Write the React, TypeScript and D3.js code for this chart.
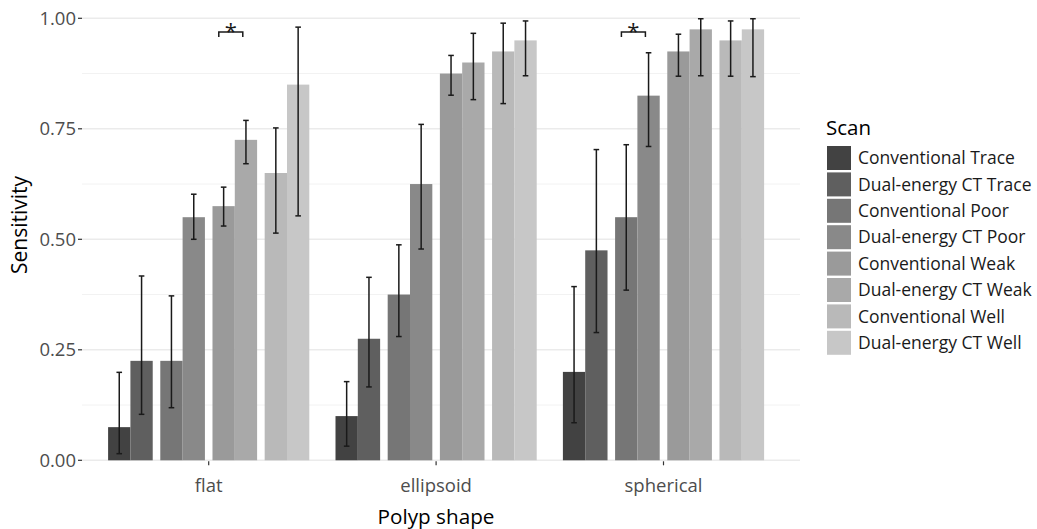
import { scaleBand, scaleLinear, scalePoint, range } from 'd3';

const categories = ['flat', 'ellipsoid', 'spherical'];
const grades = ['Trace', 'Poor', 'Weak', 'Well'];
const modalities = ['Conventional', 'Dual-energy CT'];
const scanLabels = grades.flatMap((g) => modalities.map((m) => `${m} ${g}`));
const scanColors = ['#424242', '#5f5f5f', '#767676', '#898989', '#9a9a9a', '#a9a9a9', '#b9b9b9', '#c7c7c7'];

// order: Conv Trace, DE Trace, Conv Poor, DE Poor, Conv Weak, DE Weak, Conv Well, DE Well
const flatSens = [0.075, 0.225, 0.225, 0.55, 0.575, 0.725, 0.65, 0.85];
const flatLower = [0.015, 0.104, 0.119, 0.5, 0.53, 0.671, 0.514, 0.553];
const flatUpper = [0.199, 0.417, 0.372, 0.602, 0.618, 0.769, 0.752, 0.98];

const ellipsoidSens = [0.1, 0.275, 0.375, 0.625, 0.875, 0.9, 0.925, 0.95];
const ellipsoidLower = [0.032, 0.166, 0.28, 0.478, 0.826, 0.816, 0.807, 0.87];
const ellipsoidUpper = [0.178, 0.414, 0.4875, 0.76, 0.916, 0.966, 0.989, 0.994];

const sphericalSens = [0.2, 0.475, 0.55, 0.825, 0.925, 0.975, 0.95, 0.975];
const sphericalLower = [0.085, 0.289, 0.385, 0.71, 0.869, 0.87, 0.869, 0.868];
const sphericalUpper = [0.393, 0.703, 0.714, 0.922, 0.964, 0.999, 0.994, 0.999];

const yTicks = [0, 0.25, 0.5, 0.75, 1];
const yMinor = [0.125, 0.375, 0.625, 0.875];

// significance brackets: category + grade pair
const sigCategories = ['flat', 'spherical'];
const sigGrades = ['Weak', 'Poor'];

const FONT = "'Open Sans', 'DejaVu Sans', sans-serif";

export default function App() {
  const W = 1037;
  const H = 529;
  const left = 82;
  const right = 800;
  const top = 18.3;
  const bottom = 460.3;

  const y = scaleLinear().domain([0, 1]).range([bottom, top]);
  const x = scalePoint<string>().domain(categories).range([208.7, 663.5]);
  const groupX = scaleBand<string>().domain(grades).range([-100.6, 100.6]).paddingInner(0.145);
  const modX = scaleBand<string>().domain(modalities).range([0, groupX.bandwidth()]);

  const rows = [
    { cat: 'flat', sens: flatSens, lo: flatLower, hi: flatUpper },
    { cat: 'ellipsoid', sens: ellipsoidSens, lo: ellipsoidLower, hi: ellipsoidUpper },
    { cat: 'spherical', sens: sphericalSens, lo: sphericalLower, hi: sphericalUpper },
  ];

  const bars = rows.flatMap((r) =>
    scanLabels.map((label, i) => {
      const g = grades[Math.floor(i / 2)];
      const m = modalities[i % 2];
      const x0 = (x(r.cat) ?? 0) + (groupX(g) ?? 0) + (modX(m) ?? 0);
      return { key: `${r.cat}-${label}`, x0, w: modX.bandwidth(), v: r.sens[i], lo: r.lo[i], hi: r.hi[i], color: scanColors[i] };
    })
  );

  const legendTop = 146;
  const rowH = 26.4;
  const key = 24;

  return (
    <svg width={W} height={H} style={{ position: 'absolute', left: 0, top: 0, background: '#fff' }}>
      {/* grid */}
      {yMinor.map((t) => (
        <line key={`m${t}`} x1={left} x2={right} y1={y(t)} y2={y(t)} stroke="#f2f2f2" strokeWidth={1} />
      ))}
      {yTicks.map((t) => (
        <line key={`g${t}`} x1={left} x2={right} y1={y(t)} y2={y(t)} stroke="#ebebeb" strokeWidth={1.6} />
      ))}

      {/* bars */}
      {bars.map((b) => (
        <rect key={b.key} x={b.x0} y={y(b.v)} width={b.w} height={y(0) - y(b.v)} fill={b.color} />
      ))}

      {/* error bars */}
      {bars.map((b) => {
        const cx = b.x0 + b.w / 2;
        return (
          <g key={`e${b.key}`} stroke="#1a1a1a" strokeWidth={1.5}>
            <line x1={cx} x2={cx} y1={y(b.hi)} y2={y(b.lo)} />
            <line x1={cx - 2.8} x2={cx + 2.8} y1={y(b.hi)} y2={y(b.hi)} />
            <line x1={cx - 2.8} x2={cx + 2.8} y1={y(b.lo)} y2={y(b.lo)} />
          </g>
        );
      })}

      {/* significance brackets */}
      {sigCategories.map((c, i) => {
        const cx = (x(c) ?? 0) + (groupX(sigGrades[i]) ?? 0) + groupX.bandwidth() / 2 - 4;
        const yb = y(0.969);
        return (
          <g key={`s${c}`}>
            <path d={`M${cx - 12},${yb + 5}V${yb}H${cx + 12}V${yb + 5}`} fill="none" stroke="#1a1a1a" strokeWidth={1.5} />
            <text x={cx} y={yb + 7} textAnchor="middle" fontFamily={FONT} fontSize={22} fill="#1a1a1a">*</text>
          </g>
        );
      })}

      {/* y axis */}
      {yTicks.map((t) => (
        <g key={`yt${t}`}>
          <line x1={78} x2={82} y1={y(t)} y2={y(t)} stroke="#333" strokeWidth={1.2} />
          <text x={76} y={y(t)} dy="0.35em" textAnchor="end" fontFamily={FONT} fontSize={18.5} fill="#4d4d4d">
            {t.toFixed(2)}
          </text>
        </g>
      ))}
      <text
        transform={`translate(27,225) rotate(-90)`}
        textAnchor="middle"
        fontFamily={FONT}
        fontSize={21}
        fill="#000"
      >
        Sensitivity
      </text>

      {/* x axis */}
      {categories.map((c) => (
        <g key={`xt${c}`}>
          <line x1={x(c)} x2={x(c)} y1={bottom + 1} y2={bottom + 5} stroke="#333" strokeWidth={1.2} />
          <text x={x(c)} y={492} textAnchor="middle" fontFamily={FONT} fontSize={18.5} fill="#4d4d4d">
            {c}
          </text>
        </g>
      ))}
      <text x={436} y={524} textAnchor="middle" fontFamily={FONT} fontSize={20.7} fill="#000">
        Polyp shape
      </text>

      {/* legend */}
      <text x={826} y={135} fontFamily={FONT} fontSize={20.5} fill="#000">Scan</text>
      {range(scanLabels.length).map((i) => (
        <g key={`l${i}`}>
          <rect x={827} y={legendTop + i * rowH} width={key} height={key} fill={scanColors[i]} />
          <text x={858} y={legendTop + i * rowH + key / 2} dy="0.35em" fontFamily={FONT} fontSize={17.5} fill="#1a1a1a">
            {scanLabels[i]}
          </text>
        </g>
      ))}
    </svg>
  );
}
